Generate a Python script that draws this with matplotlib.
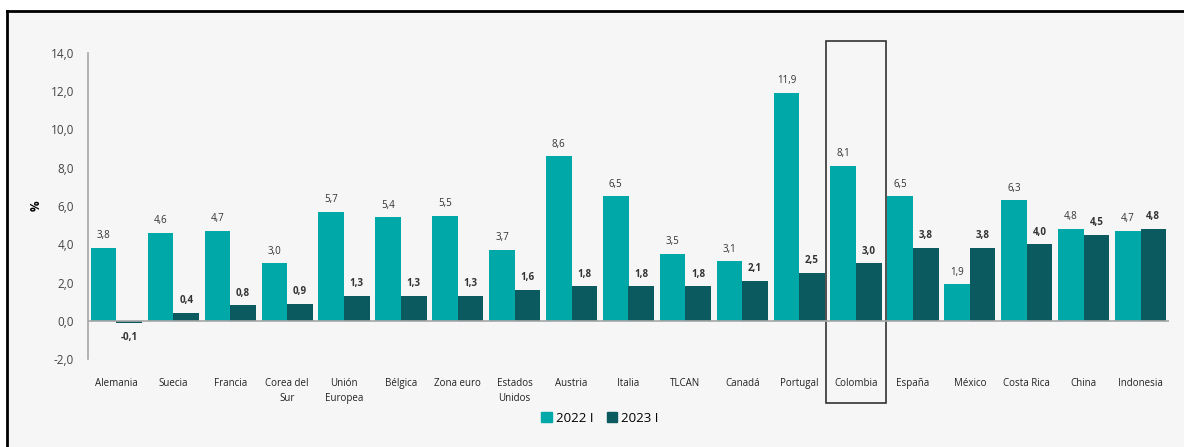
import matplotlib
matplotlib.use('Agg')
import matplotlib.pyplot as plt
import numpy as np
from matplotlib.patches import Rectangle, Patch
from matplotlib.lines import Line2D

# Crecimiento anual, %
paises = ['Alemania', 'Suecia', 'Francia', 'Corea del\nSur', 'Unión\nEuropea', 'Bélgica',
          'Zona euro', 'Estados\nUnidos', 'Austria', 'Italia', 'TLCAN', 'Canadá', 'Portugal',
          'Colombia', 'España', 'México', 'Costa Rica', 'China', 'Indonesia']
val_2022 = [3.8, 4.6, 4.7, 3.0, 5.7, 5.4, 5.5, 3.7, 8.6, 6.5, 3.5, 3.1, 11.9, 8.1, 6.5, 1.9, 6.3, 4.8, 4.7]
val_2023 = [-0.1, 0.4, 0.8, 0.9, 1.3, 1.3, 1.3, 1.6, 1.8, 1.8, 1.8, 2.1, 2.5, 3.0, 3.8, 3.8, 4.0, 4.5, 4.8]
series = ['2022 I', '2023 I']
y_ticks = [-2, 0, 2, 4, 6, 8, 10, 12, 14]

c1 = '#00A8A8'
c2 = '#0A5A5F'
bg = '#F6F6F6'
fnt = 'Open Sans'

fig = plt.figure(figsize=(11.84, 4.47), dpi=100)
fig.patch.set_facecolor('white')
# fondo gris y marco
fig.add_artist(Rectangle((7 / 1184, 0), 1 - 7 / 1184, 1 - 10 / 447, transform=fig.transFigure,
                         facecolor=bg, edgecolor='none', zorder=-5))
fig.add_artist(Line2D([6.5 / 1184, 1], [1 - 10.5 / 447, 1 - 10.5 / 447], color='black', lw=2))
fig.add_artist(Line2D([6.5 / 1184, 6.5 / 1184], [0, 1 - 10.5 / 447], color='black', lw=2))

ax = fig.add_axes([88 / 1184, 1 - 359 / 447, (1169 - 88) / 1184, (359 - 53) / 447])
ax.set_facecolor('none')

x = np.arange(len(paises))
w = 0.45
ax.bar(x - w / 2, val_2022, w, color=c1, label=series[0])
ax.bar(x + w / 2, val_2023, w, color=c2, label=series[1])

for xi, v in zip(x, val_2022):
    ax.text(xi - w / 2, v + 0.35, f'{v:.1f}'.replace('.', ','), ha='center', va='bottom',
            fontsize=7, family=fnt, color='#333333')
for xi, v in zip(x, val_2023):
    off = 0.35 if v >= 0 else -0.5
    ax.text(xi + w / 2, v + off, f'{v:.1f}'.replace('.', ','), ha='center',
            va='bottom' if v >= 0 else 'top', fontsize=7, family=fnt, fontweight='bold', color='#333333')

ax.set_xlim(-0.5, 18.5)
ax.set_ylim(-2, 14)
ax.set_yticks(y_ticks)
ax.set_yticklabels([f'{t:.1f}'.replace('.', ',') for t in y_ticks], family=fnt, fontsize=8.5, color='#444444')
ax.tick_params(axis='y', length=0, pad=10)
ax.set_xticks(x)
ax.set_xticklabels(paises, family=fnt, fontsize=7, color='#222222', linespacing=1.5)
ax.tick_params(axis='x', length=0, pad=13.5)
ax.axhline(0, color='#A6A6A6', lw=1.2)
for s in ['top', 'right', 'bottom']:
    ax.spines[s].set_visible(False)
ax.spines['left'].set_color('#A6A6A6')
ax.spines['left'].set_linewidth(1.2)
ax.set_ylabel('%', family=fnt, fontsize=8.5, fontweight='bold', labelpad=6)

# recuadro Colombia
idx = paises.index('Colombia')
ax.add_patch(Rectangle((idx - 0.53, -4.28), 1.06, 14.63 + 4.28, fill=False,
                       edgecolor='#333333', lw=1.2, clip_on=False))

handles = [Patch(color=c1), Patch(color=c2)]
fig.legend(handles, series, loc='center', bbox_to_anchor=(600 / 1184, 1 - 418 / 447), ncol=2,
           frameon=False, prop={'family': fnt, 'size': 9.5}, handlelength=0.8, handleheight=0.8,
           handletextpad=0.3, columnspacing=1.0)

fig.savefig('out.png', dpi=100, facecolor=fig.get_facecolor())
